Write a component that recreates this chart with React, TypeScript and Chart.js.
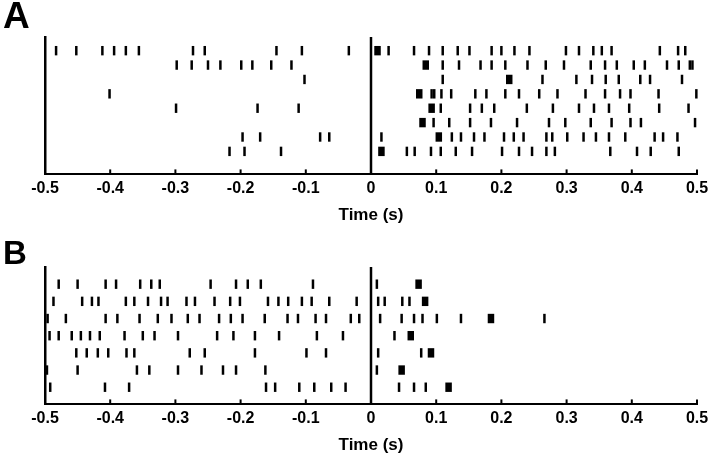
import React, { useEffect, useRef } from "react";
import { Chart, registerables } from "chart.js";

Chart.register(...registerables);

// x-axis ticks (seconds)
const xTickValues = [-0.5, -0.4, -0.3, -0.2, -0.1, 0, 0.1, 0.2, 0.3, 0.4, 0.5];
const xTickLabels = ["-0.5", "-0.4", "-0.3", "-0.2", "-0.1", "0", "0.1", "0.2", "0.3", "0.4", "0.5"];

// Panel A: spike times per trial (s), top trial first
const A1 = [-0.483, -0.452, -0.412, -0.394, -0.376, -0.356, -0.273, -0.255, -0.145, -0.106, -0.034, 0.027, 0.066, 0.089, 0.11, 0.133, 0.151, 0.185, 0.2, 0.22, 0.243, 0.299, 0.319, 0.341, 0.354, 0.369, 0.443, 0.471, 0.482];
const A2 = [-0.298, -0.275, -0.25, -0.231, -0.199, -0.182, -0.153, -0.122, 0.11, 0.135, 0.168, 0.185, 0.206, 0.24, 0.268, 0.296, 0.337, 0.359, 0.377, 0.403, 0.42, 0.454, 0.472, 0.489, 0.493];
const A3 = [-0.102, 0.11, 0.263, 0.315, 0.339, 0.36, 0.38, 0.413, 0.428, 0.477];
const A4 = [-0.401, 0.093, 0.097, 0.108, 0.123, 0.16, 0.177, 0.206, 0.227, 0.258, 0.286, 0.329, 0.359, 0.382, 0.398, 0.441, 0.499];
const A5 = [-0.299, -0.174, -0.111, 0.107, 0.152, 0.17, 0.189, 0.239, 0.279, 0.319, 0.342, 0.365, 0.396, 0.442, 0.487];
const A6 = [0.096, 0.12, 0.152, 0.184, 0.224, 0.273, 0.298, 0.337, 0.369, 0.398, 0.414, 0.497];
const A7 = [-0.197, -0.17, -0.078, -0.064, 0.016, 0.124, 0.138, 0.158, 0.174, 0.204, 0.219, 0.234, 0.269, 0.278, 0.301, 0.326, 0.345, 0.365, 0.39, 0.435, 0.448, 0.47];
const A8 = [-0.217, -0.194, -0.138, 0.055, 0.067, 0.092, 0.107, 0.13, 0.155, 0.201, 0.227, 0.247, 0.269, 0.282, 0.367, 0.408, 0.429, 0.472];
// Panel A: first response spike of each trial (drawn as block)
const firstA = [0.01, 0.084, 0.212, 0.074, 0.093, 0.079, 0.104, 0.016];

// Panel B: spike times per trial (s)
const B1 = [-0.479, -0.45, -0.407, -0.391, -0.354, -0.337, -0.324, -0.246, -0.207, -0.189, -0.169, -0.089, 0.009];
const B2 = [-0.487, -0.443, -0.428, -0.418, -0.376, -0.363, -0.342, -0.322, -0.312, -0.283, -0.27, -0.24, -0.216, -0.201, -0.158, -0.142, -0.127, -0.106, -0.091, -0.064, -0.022, 0.011, 0.021, 0.048, 0.059];
const B3 = [-0.496, -0.468, -0.407, -0.389, -0.355, -0.327, -0.306, -0.281, -0.263, -0.233, -0.215, -0.197, -0.163, -0.128, -0.112, -0.085, -0.069, -0.031, -0.018, 0.014, 0.047, 0.066, 0.079, 0.101, 0.138, 0.266];
const B4 = [-0.493, -0.479, -0.459, -0.445, -0.431, -0.416, -0.378, -0.35, -0.332, -0.296, -0.236, -0.211, -0.178, -0.141, -0.083, -0.043, 0.036];
const B5 = [-0.452, -0.436, -0.419, -0.403, -0.375, -0.363, -0.278, -0.255, -0.178, -0.099, -0.069, 0.011, 0.077];
const B6 = [-0.497, -0.45, -0.359, -0.34, -0.296, -0.26, -0.227, -0.207, -0.162, 0.009];
const B7 = [-0.492, -0.408, -0.371, -0.161, -0.147, -0.11, -0.087, -0.061, -0.039, 0.043, 0.066, 0.084];
const firstB = [0.073, 0.083, 0.184, 0.061, 0.092, 0.047, 0.119];

const trialsA = [A1, A2, A3, A4, A5, A6, A7, A8];
const trialsB = [B1, B2, B3, B4, B5, B6, B7];

const FONT = "'Liberation Sans', Arial, Helvetica, sans-serif";

const innerTicks = {
  id: "innerTicks",
  afterDraw(chart: any) {
    const xs = chart.scales.x;
    const ctx = chart.ctx;
    const y0 = chart.chartArea.bottom;
    ctx.save();
    ctx.strokeStyle = "#000";
    ctx.lineWidth = 2;
    xs.ticks.forEach((t: any) => {
      const px = xs.getPixelForValue(t.value);
      ctx.beginPath();
      ctx.moveTo(px, y0);
      ctx.lineTo(px, y0 - 5);
      ctx.stroke();
    });
    ctx.restore();
  },
};

function Raster({ trials, first, yMin, yMax, top }: { trials: number[][]; first: number[]; yMin: number; yMax: number; top: number }) {
  const ref = useRef<HTMLCanvasElement | null>(null);
  useEffect(() => {
    if (!ref.current) return;
    const spikes: { x: number; y: number }[] = [];
    trials.forEach((row, i) => row.forEach((t) => spikes.push({ x: t, y: i + 1 })));
    const blocks = first.map((t, i) => ({ x: t, y: i + 1 }));
    const chart = new Chart(ref.current, {
      type: "scatter",
      data: {
        datasets: [
          {
            type: "line",
            data: [
              { x: 0, y: yMin },
              { x: 0, y: yMax },
            ],
            borderColor: "#000",
            borderWidth: 2.5,
            pointRadius: 0,
            showLine: true,
          } as any,
          {
            data: spikes,
            pointStyle: "line",
            rotation: 90,
            pointRadius: 4.7,
            borderWidth: 2.5,
            borderColor: "#000",
            backgroundColor: "#000",
            clip: false,
          } as any,
          {
            data: blocks,
            pointStyle: "line",
            rotation: 90,
            pointRadius: 4.7,
            borderWidth: 6.5,
            borderColor: "#000",
            backgroundColor: "#000",
            clip: false,
          } as any,
        ],
      },
      options: {
        animation: false,
        responsive: false,
        devicePixelRatio: 1,
        events: [],
        layout: { padding: { left: 45, right: 23, top: 37, bottom: 4 } },
        plugins: { legend: { display: false }, tooltip: { enabled: false } },
        scales: {
          x: {
            type: "linear",
            min: -0.5,
            max: 0.5,
            afterBuildTicks: (scale: any) => {
              scale.ticks = xTickValues.map((v) => ({ value: v }));
            },
            ticks: {
              callback: (_v: any, i: number) => xTickLabels[i],
              color: "#000",
              font: { family: FONT, size: 16, weight: "bold" },
              padding: 5,
              maxRotation: 0,
              autoSkip: false,
            },
            grid: { display: true, drawOnChartArea: false, drawTicks: false },
            border: { display: true, color: "#000", width: 2 },
            title: {
              display: true,
              text: "Time (s)",
              color: "#000",
              font: { family: FONT, size: 17, weight: "bold" },
              padding: { top: 2, bottom: 0 },
            },
          },
          y: {
            type: "linear",
            min: yMin,
            max: yMax,
            reverse: true,
            ticks: { display: false },
            grid: { display: true, drawOnChartArea: false, drawTicks: false },
            border: { display: true, color: "#000", width: 2.5 },
            afterFit: (scale: any) => {
              scale.width = 0;
            },
          },
        },
      },
      plugins: [innerTicks],
    } as any);
    return () => chart.destroy();
  }, []);
  return (
    <canvas
      ref={ref}
      width={720}
      height={230}
      style={{ position: "absolute", left: 0, top, width: 720, height: 230 }}
    />
  );
}

export default function App() {
  return (
    <div style={{ position: "fixed", left: 0, top: 0, width: 720, height: 469, background: "#fff", overflow: "hidden" }}>
      <Raster trials={trialsA} first={firstA} yMin={0.05} yMax={9.6} top={0} />
      <Raster trials={trialsB} first={firstB} yMin={0} yMax={8} top={230} />
      <div style={{ position: "absolute", left: 3, top: -3, fontFamily: FONT, fontWeight: "bold", fontSize: 37, lineHeight: "37px" }}>A</div>
      <div style={{ position: "absolute", left: 3, top: 236, fontFamily: FONT, fontWeight: "bold", fontSize: 33, lineHeight: "33px" }}>B</div>
    </div>
  );
}
